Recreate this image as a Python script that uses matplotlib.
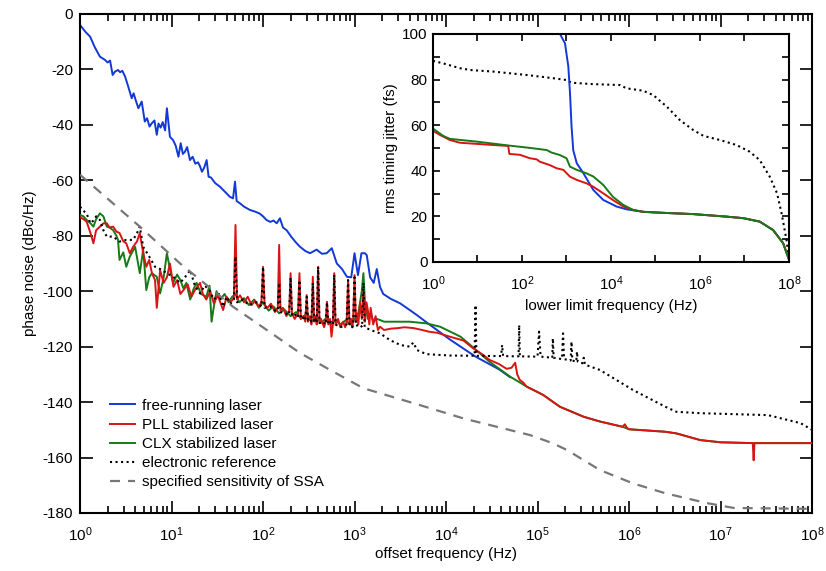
import math
import matplotlib
matplotlib.use("Agg")
import matplotlib.pyplot as plt
from matplotlib.ticker import FixedLocator, NullFormatter, FuncFormatter, MultipleLocator

plt.rcParams['font.family'] = ['Liberation Sans', 'DejaVu Sans']
plt.rcParams['mathtext.fontset'] = 'custom'
plt.rcParams['mathtext.rm'] = 'Liberation Sans'
plt.rcParams['axes.unicode_minus'] = False

# ---- main plot: phase noise (f in Hz, dBc/Hz) ----
free_running = [
    (1, -4), (1.15, -6.5), (1.29, -8.2), (1.45, -12), (1.65, -15.4), (1.88, -16.6),
    (2.0, -17.5), (2.13, -16.8), (2.27, -22), (2.41, -20.8), (2.6, -20.2), (2.74, -21),
    (2.9, -20.5), (3.1, -22.5), (3.35, -26), (3.67, -30.4), (3.85, -28.6), (4.05, -31),
    (4.34, -34), (4.72, -31.6), (5.1, -38.8), (5.4, -37.6), (5.75, -40.6), (6.06, -39.5),
    (6.5, -38.4), (6.9, -43.6), (7.2, -39.5), (7.6, -41), (8.0, -39), (8.5, -42),
    (8.9, -34), (9.6, -44.3), (10.4, -45.5), (11.1, -47.5), (11.9, -51.5), (12.6, -46.6),
    (13.3, -50.5), (14, -49.7), (14.8, -48), (15.9, -52.7), (17, -51.5), (18.2, -54),
    (19.5, -53.5), (20.5, -55), (21.5, -56.9), (22.7, -55.5), (24.2, -52.7), (25.4, -58.7),
    (27, -59), (30, -61), (33.8, -62.3), (38, -64), (43.6, -66), (47, -66.5),
    (49.4, -60.5), (51.5, -67.5), (56, -68.3), (62, -69.5), (72, -70.7), (82, -71.3),
    (92, -72), (100, -73), (109, -74.3), (120, -75), (130, -74.5), (141, -75.5),
    (153, -73.7), (165, -77), (181, -78), (205, -80.5), (230, -82.5), (254, -84),
    (290, -85.5), (326, -86.3), (385, -85), (440, -86.5), (496, -86.3), (564, -84.5),
    (640, -90), (730, -92), (825, -94.8), (920, -95), (1000, -86.3), (1090, -94.2),
    (1190, -86.3), (1300, -86.3), (1360, -87), (1480, -95), (1620, -97), (1750, -92),
    (1900, -98.5), (2060, -101), (2500, -102.8), (3160, -104.4), (4800, -108.6),
    (6100, -111.2), (11000, -117.4), (21000, -123.6), (38000, -128.2), (50000, -131),
]

pll_stabilized = [
    (1, -73.3), (1.09, -74), (1.18, -74.9), (1.3, -79), (1.4, -82.7), (1.5, -78),
    (1.65, -76.7), (1.8, -75.5), (1.96, -75.5), (2.1, -77), (2.3, -76.7), (2.5, -78.5),
    (2.7, -79), (2.97, -82), (3.2, -82.7), (3.5, -86.3), (3.8, -84), (4.2, -82),
    (4.5, -79), (4.9, -86.3), (5.3, -91.2), (5.7, -88.7), (6.1, -93.5), (6.6, -96),
    (6.9, -106), (7.5, -92.4), (8.2, -97), (8.9, -95), (9.6, -90), (10.5, -98.4),
    (11.5, -96), (12.5, -101), (13.5, -99.6), (15, -97.5), (16.5, -102), (18, -99.6),
    (20.5, -97), (22, -101), (24, -103), (26.5, -100), (29, -104.4), (32, -101.5),
    (36.6, -106.8), (40, -102), (44, -104), (48, -102.5), (50, -76.1), (52, -103),
    (56, -101.5), (62, -104), (68, -102), (75, -105), (82, -103.5), (90, -105.5),
    (96, -104), (100, -91.2), (104, -105), (112, -106), (122, -104.5), (135, -107.5),
    (145, -106), (150, -83.3), (155, -107), (165, -106), (180, -109), (193, -107),
    (200, -93.5), (207, -108), (222, -110), (241, -108), (250, -93.5), (259, -110),
    (275, -109), (290, -111), (300, -101.4), (310, -111), (325, -109), (338, -112),
    (350, -94.8), (362, -111), (375, -109), (386, -112), (400, -91.2), (414, -111),
    (430, -110), (465, -113), (483, -111), (500, -103.8), (517, -112), (540, -110),
    (560, -116.4), (580, -112), (600, -93.5), (620, -112), (660, -110), (700, -113),
    (750, -111), (790, -113), (820, -111), (850, -96), (880, -112), (920, -110),
    (950, -113), (965, -110), (1000, -94.2), (1035, -111), (1060, -108), (1100, -112),
    (1150, -104), (1200, -110), (1250, -100), (1300, -111), (1350, -104), (1400, -107),
    (1450, -112), (1500, -106), (1600, -112), (1700, -109), (1800, -114), (1900, -112.8),
    (2100, -114), (2500, -113.5), (3000, -113.3), (3500, -113), (4400, -113.3),
    (5500, -114), (6500, -114.6), (8000, -115), (11000, -116.4), (15500, -117.8),
    (19600, -120.5), (25000, -122.8), (30000, -124.8), (38000, -126.3), (46000, -128),
    (52000, -127.6), (57000, -125.8), (60000, -130), (64000, -132), (70000, -133),
    (76000, -134.4), (1.15e5, -137.4), (1.76e5, -141.7), (3.2e5, -145.3), (4.8e5, -147),
    (8.5e5, -148.9), (9e5, -148), (9.5e5, -149.3), (1e6, -149.8), (2.5e6, -150.7),
    (3.3e6, -151.3), (6e6, -153.7), (1e7, -154.5), (2.25e7, -154.8), (2.3e7, -161),
    (2.35e7, -154.8), (1e8, -154.8),
]

clx_stabilized = [
    (1, -72.5), (1.09, -73), (1.18, -74.3), (1.3, -75.5), (1.4, -76.7), (1.5, -74),
    (1.65, -71.9), (1.8, -73), (1.96, -76.7), (2.1, -77), (2.3, -78), (2.5, -80),
    (2.6, -81.5), (2.7, -88.7), (2.97, -86), (3.2, -91.2), (3.5, -87.5), (4, -84),
    (4.5, -93.5), (4.9, -85), (5.3, -99.6), (5.7, -95), (6.1, -93.5), (6.9, -94.8),
    (7.5, -100.8), (8.2, -95), (8.9, -86.3), (9.6, -92), (10.4, -97), (11.5, -94),
    (12.4, -95.8), (13.5, -99), (14.5, -97), (16, -103), (17.5, -99), (18.8, -97),
    (21, -101), (24, -102), (26, -98), (27.4, -111), (28.6, -106.8), (31, -100),
    (34, -103), (38, -101), (42, -104), (46, -102), (50, -101), (55, -104),
    (62, -102.5), (70, -105), (80, -103), (90, -106), (100, -104), (115, -107),
    (130, -105.5), (150, -108), (170, -106.5), (200, -109), (230, -107.5), (260, -110),
    (300, -108), (340, -111), (380, -109), (430, -111.5), (480, -110), (550, -112),
    (620, -110.5), (700, -112), (800, -110.5), (900, -112), (1000, -110), (1100, -108),
    (1200, -100), (1250, -93.5), (1300, -104), (1400, -110), (1500, -108), (1600, -111),
    (1750, -110), (1900, -110.4), (2100, -111), (3000, -111), (4000, -111),
    (6100, -111.6), (8600, -112.8), (14400, -116.4), (21300, -121.2), (30000, -125.5),
    (50000, -130.8), (76000, -134.4), (1.15e5, -137.4), (1.76e5, -141.7), (3.2e5, -145.3),
    (4.8e5, -147), (8.5e5, -148.9), (1e6, -149.8), (2.5e6, -150.7), (3.3e6, -151.3),
    (6e6, -153.7), (1e7, -154.5), (2.3e7, -154.8), (1e8, -154.8),
]

electronic_ref = [
    (1, -69.5), (1.09, -71), (1.18, -72), (1.3, -75.5), (1.4, -74.5), (1.5, -73),
    (1.65, -74.3), (1.8, -78), (1.96, -80.3), (2.3, -80.3), (2.7, -82.1), (3.2, -81.5),
    (3.8, -81.5), (4.2, -79), (4.5, -76.7), (4.9, -84), (5.7, -87.5), (6.6, -91.2),
    (7.5, -92), (8.9, -93.5), (10.4, -94.8), (12.4, -97), (14, -95), (16, -92.4),
    (18, -98), (20.5, -100.8), (23, -98), (26, -99.6), (29, -103), (33, -101),
    (36.6, -105.6), (40, -102), (44, -104.5), (48, -103), (50, -87.5), (52, -104),
    (60, -103), (70, -105), (85, -104), (96, -105.5), (100, -91.2), (104, -106),
    (120, -105.5), (135, -107), (145, -107), (150, -97), (155, -107.5), (175, -108),
    (193, -108.5), (200, -95), (207, -109), (225, -108.5), (241, -109.5), (250, -96),
    (259, -110), (275, -109.5), (290, -110.5), (300, -102), (310, -110.5), (325, -110),
    (338, -111), (350, -97), (362, -111), (375, -110), (386, -111.5), (400, -91.2),
    (414, -111.5), (450, -111), (483, -112), (500, -104), (517, -112), (550, -111),
    (580, -112), (600, -94), (620, -112), (700, -113), (820, -112), (850, -96),
    (880, -112.5), (940, -113), (965, -112), (1000, -95), (1035, -112.5), (1150, -112),
    (1210, -113), (1250, -97), (1290, -113), (1500, -114), (1900, -115.2), (2430, -117.6),
    (3160, -119.4), (4000, -120), (4400, -118.5), (4800, -121.2), (6100, -122.7),
    (11000, -123.2), (20500, -123.3), (21000, -105), (21500, -123.3), (40000, -123.4),
    (41000, -119.4), (42000, -123.4), (62000, -123.5), (63000, -112.2), (64000, -123.5),
    (1.0e5, -123.6), (1.04e5, -114.6), (1.08e5, -123.6), (1.45e5, -124), (1.47e5, -117),
    (1.5e5, -124), (1.85e5, -124.5), (1.9e5, -115.2), (1.95e5, -124.5), (2.3e5, -125),
    (2.35e5, -118.2), (2.4e5, -125), (2.65e5, -125.4), (2.7e5, -121.8), (2.75e5, -125.4),
    (3.1e5, -126), (3.2e5, -124), (3.3e5, -126.5), (4.8e5, -128.4), (1.1e6, -135.6),
    (2.5e6, -141.7), (3.3e6, -143.5), (6e6, -144), (3.3e7, -144.7), (7.5e7, -147.6),
    (1e8, -150),
]

ssa_sensitivity = [
    (1, -58), (4.5, -76.7), (12.4, -90), (28, -99.5), (47, -105.6), (110, -114),
    (254, -122.3), (540, -128.4), (1250, -135), (2900, -138.6), (6700, -142.2),
    (15500, -145.9), (35800, -148.9), (82800, -151.9), (1.48e5, -154.9), (2.1e5, -157.3),
    (4.8e5, -164.5), (1.1e6, -169.3), (2.5e6, -172.9), (7e6, -176.4), (1.4e7, -178.2),
    (1e8, -178.5),
]

# ---- inset: integrated rms jitter (fs) vs lower limit frequency ----
jitter_free = [
    (714, 100), (925, 95.9), (1100, 85.7), (1200, 74), (1300, 59.3), (1420, 49),
    (1700, 43.3), (2400, 38.9), (4000, 31.6), (6700, 27.2), (13400, 24.3), (22400, 23.1),
    (53000, 22), (1.3e5, 21.6), (7e5, 21), (3.9e6, 19.9), (9.5e6, 19.2), (2.2e7, 17.7),
    (4.4e7, 14), (7.4e7, 8.2), (1e8, 1),
]
jitter_pll = [
    (1, 57.5), (1.44, 55.7), (2.4, 53.5), (4, 52.3), (9.5, 51.8), (22.6, 51.3),
    (49, 50.9), (52, 47.4), (90, 47), (150, 45.5), (215, 45), (250, 44), (420, 42.5),
    (600, 41.1), (850, 40.4), (1200, 37.4), (1700, 36), (2800, 34.5), (4000, 33),
    (6700, 30.1), (11000, 27.2), (19000, 24.3), (31600, 22.8), (53000, 22), (1.3e5, 21.6),
    (7e5, 21), (3.9e6, 19.9), (9.5e6, 19.2), (2.2e7, 17.7), (4.4e7, 14), (7.4e7, 8.2),
    (1e8, 1),
]
jitter_clx = [
    (1, 58.5), (1.7, 55.3), (2.4, 54), (9.5, 52.8), (54, 51), (128, 50.2), (360, 49.1),
    (460, 48), (710, 46.9), (1000, 45.5), (1200, 41.8), (1700, 40.4), (2800, 38.9),
    (4000, 37.5), (6700, 33.8), (11000, 28.6), (19000, 25), (31600, 22.8), (53000, 22),
    (1.3e5, 21.6), (7e5, 21), (3.9e6, 19.9), (9.5e6, 19.2), (2.2e7, 17.7), (4.4e7, 14),
    (7.4e7, 8.2), (1e8, 1),
]
jitter_ref = [
    (1, 88.2), (1.7, 87.1), (4, 85), (6.8, 84.2), (22.6, 83.5), (128, 82), (500, 80.6),
    (1000, 79.8), (1300, 78.6), (4000, 78), (16000, 77.6), (22000, 76.2), (53000, 75.1),
    (89000, 73.2), (1.8e5, 68.1), (3.5e5, 62.3), (7e5, 57.9), (1.2e6, 55.3), (2.8e6, 53.5),
    (6.6e6, 51.3), (1.3e7, 48.4), (2.2e7, 44.7), (3.7e7, 37.4), (5.4e7, 30.1),
    (6.8e7, 21.4), (8.8e7, 9.6), (1e8, 1.5),
]

BLUE = '#1238d6'
RED = '#d81414'
GREEN = '#177a17'
GREY = '#777777'

decades = [10.0 ** k for k in range(0, 9)]
minor_ticks = [m * 10.0 ** k for k in range(0, 8) for m in range(2, 10)]


def xy(pairs):
    return [p[0] for p in pairs], [p[1] for p in pairs]


def pow10_label(v, pos):
    return r'$\mathdefault{10^{%d}}$' % int(round(math.log10(v)))


def every_other(v, pos):
    k = int(round(math.log10(v)))
    return r'$\mathdefault{10^{%d}}$' % k if k % 2 == 0 else ''


fig = plt.figure(figsize=(8.26, 5.71), dpi=100)
ax = fig.add_axes([0.0969, 0.1016, 0.8862, 0.8739])

ax.plot(*xy(free_running), color=BLUE, lw=1.4, zorder=2, label='free-running laser')
ax.plot(*xy(pll_stabilized), color=RED, lw=1.4, zorder=4, label='PLL stabilized laser')
ax.plot(*xy(clx_stabilized), color=GREEN, lw=1.4, zorder=3, label='CLX stabilized laser')
ax.plot(*xy(electronic_ref), color='black', lw=1.5, ls=':', zorder=5, label='electronic reference')
ax.plot(*xy(ssa_sensitivity), color=GREY, lw=1.6, ls=(0, (4.5, 3.6)), zorder=6,
        label='specified sensitivity of SSA')

ax.set_xscale('log')
ax.set_xlim(1, 1e8)
ax.set_ylim(-180, 0)
ax.yaxis.set_major_locator(MultipleLocator(20))
ax.xaxis.set_major_locator(FixedLocator(decades))
ax.xaxis.set_major_formatter(FuncFormatter(pow10_label))
ax.xaxis.set_minor_locator(FixedLocator(minor_ticks))
ax.xaxis.set_minor_formatter(NullFormatter())
ax.tick_params(which='both', direction='in', top=True, right=True, labelsize=11, width=1.2)
ax.tick_params(which='major', length=9)
ax.tick_params(which='minor', length=5)
ax.tick_params(axis='y', pad=5)
ax.tick_params(axis='x', pad=9)
for s in ax.spines.values():
    s.set_linewidth(1.5)
ax.set_xlabel('offset frequency (Hz)', fontsize=11, labelpad=2)
ax.set_ylabel('phase noise (dBc/Hz)', fontsize=11, labelpad=4)

leg = ax.legend(loc='upper left', bbox_to_anchor=(0.034, 0.238), frameon=False, fontsize=11,
                handlelength=1.7, handletextpad=0.45, labelspacing=0.33, borderaxespad=0,
                borderpad=0.3)

# ---- inset ----
ins = fig.add_axes([0.5242, 0.5412, 0.4310, 0.3993])
ins.set_facecolor('white')
ins.plot(*xy(jitter_ref), color='black', lw=1.5, ls=':')
ins.plot(*xy(jitter_free), color=BLUE, lw=1.4)
ins.plot(*xy(jitter_pll), color=RED, lw=1.4)
ins.plot(*xy(jitter_clx), color=GREEN, lw=1.4)
ins.set_xscale('log')
ins.set_xlim(1, 1e8)
ins.set_ylim(0, 100)
ins.xaxis.set_major_locator(FixedLocator(decades))
ins.xaxis.set_minor_locator(FixedLocator([]))
ins.xaxis.set_major_formatter(FuncFormatter(every_other))
ins.yaxis.set_major_locator(MultipleLocator(20))
ins.yaxis.set_minor_locator(MultipleLocator(10))
ins.tick_params(which='both', direction='in', top=True, right=True, labelsize=11,
                width=1.2, length=5)
ins.tick_params(axis='y', pad=4)
ins.tick_params(axis='x', pad=9)
for s in ins.spines.values():
    s.set_linewidth(1.5)
ins.set_xlabel('lower limit frequency (Hz)', fontsize=11, labelpad=4)
ins.set_ylabel('rms timing jitter (fs)', fontsize=11, labelpad=3)

fig.savefig('out.png', dpi=100)
